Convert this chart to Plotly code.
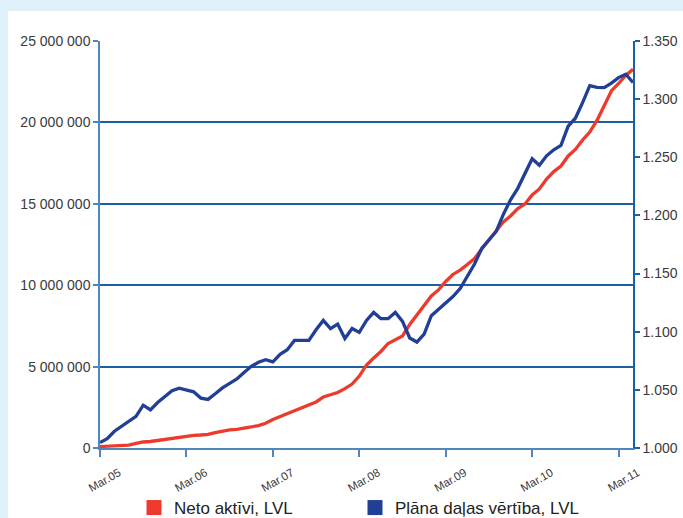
import plotly.graph_objects as go

# Monthly observations, Mar 2005 .. May 2011
month_index = list(range(75))

neto_aktivi_mln = [0.09, 0.12, 0.15, 0.17, 0.18, 0.28, 0.37, 0.40, 0.46, 0.55, 0.58, 0.64,
                   0.71, 0.77, 0.80, 0.84, 0.95, 1.04, 1.11, 1.14, 1.20, 1.29, 1.38, 1.52,
                   1.75, 1.93, 2.12, 2.33, 2.49, 2.68, 2.83, 3.13, 3.26, 3.41, 3.65, 3.93,
                   4.42, 5.10, 5.53, 5.93, 6.42, 6.66, 6.88, 7.59, 8.17, 8.78, 9.34, 9.71,
                   10.23, 10.66, 10.93, 11.27, 11.64, 12.22, 12.75, 13.33, 13.88, 14.25, 14.71, 14.99,
                   15.54, 15.91, 16.52, 16.98, 17.32, 17.94, 18.34, 18.92, 19.41, 20.12, 21.01, 21.93,
                   22.39, 22.88, 23.26]

dalas_vertiba = [1.0047, 1.0080, 1.0144, 1.0184, 1.0229, 1.0272, 1.0368, 1.0328, 1.0391, 1.0441, 1.0493, 1.0515,
                 1.0500, 1.0483, 1.0429, 1.0418, 1.0466, 1.0517, 1.0556, 1.0593, 1.0649, 1.0702, 1.0737, 1.0759,
                 1.0741, 1.0806, 1.0845, 1.0925, 1.0925, 1.0925, 1.1017, 1.1097, 1.1026, 1.1066, 1.0942, 1.1028,
                 1.0994, 1.1097, 1.1166, 1.1112, 1.1112, 1.1166, 1.1089, 1.0946, 1.0911, 1.0980, 1.1138, 1.1190,
                 1.1241, 1.1302, 1.1371, 1.1483, 1.1582, 1.1716, 1.1789, 1.1862, 1.2009, 1.2134, 1.2233, 1.2362,
                 1.2487, 1.2431, 1.2513, 1.2565, 1.2603, 1.2767, 1.2836, 1.2970, 1.3116, 1.3101, 1.3099, 1.3138,
                 1.3185, 1.3214, 1.3144]

x_tick_vals = [0, 12, 24, 36, 48, 60, 72]
x_tick_text = ["Mar.05", "Mar.06", "Mar.07", "Mar.08", "Mar.09", "Mar.10", "Mar.11"]
y_tick_vals = [0, 5e6, 10e6, 15e6, 20e6, 25e6]
y_tick_text = ["0", "5 000 000", "10 000 000", "15 000 000", "20 000 000", "25 000 000"]
y2_tick_vals = [1.00, 1.05, 1.10, 1.15, 1.20, 1.25, 1.30, 1.35]
series_names = ["Neto aktīvi, LVL", "Plāna daļas vērtība, LVL"]

RED = "#ee3a2c"
BLUE = "#223f96"
GRID = "#1d5fa3"
AXIS = "#4f86bf"
TXT = "#3a3a3a"
FONT = "Liberation Sans, Arial, sans-serif"

fig = go.Figure()
fig.add_trace(go.Scatter(x=month_index, y=[v * 1e6 for v in neto_aktivi_mln], mode="lines",
                         line=dict(color=RED, width=3.3), showlegend=False, yaxis="y"))
fig.add_trace(go.Scatter(x=month_index, y=dalas_vertiba, mode="lines",
                         line=dict(color=BLUE, width=3.3), showlegend=False, yaxis="y2"))
# legend entries (square swatches)
fig.add_trace(go.Scatter(x=[None], y=[None], mode="markers", name=series_names[0],
                         marker=dict(symbol="square", size=15, color=RED), legend="legend"))
fig.add_trace(go.Scatter(x=[None], y=[None], mode="markers", name=series_names[1],
                         marker=dict(symbol="square", size=15, color=BLUE), legend="legend2"))

L, R, T, B = 100, 50, 41, 70
W, H = 683, 518
pw, ph = W - L - R, H - T - B

def px_x(p):
    return (p - L) / pw

def px_y(p):
    return (H - B - p) / ph

leg_common = dict(orientation="h", xanchor="left", yanchor="middle",
                  font=dict(size=17, color="#222222"), itemwidth=30,
                  bgcolor="rgba(0,0,0,0)", borderwidth=0)

fig.update_layout(
    width=W, height=H,
    margin=dict(l=L, r=R, t=T, b=B, autoexpand=False),
    paper_bgcolor="#dff1fa",
    plot_bgcolor="white",
    font=dict(family=FONT, color=TXT),
    shapes=[dict(type="rect", xref="paper", yref="paper", layer="below",
                 x0=px_x(8), x1=px_x(W + 5), y0=px_y(H + 5), y1=px_y(11),
                 fillcolor="white", line=dict(width=0))],
    xaxis=dict(range=[0, 74], tickvals=x_tick_vals, ticktext=x_tick_text,
               showgrid=False, zeroline=False, showline=True, linecolor=AXIS, linewidth=1.5,
               ticks="outside", ticklen=7, tickcolor=AXIS, tickwidth=1.5,
               tickangle=-30, ticklabelshift=19, ticklabelstandoff=5,
               tickfont=dict(size=11.5, color=TXT)),
    yaxis=dict(range=[0, 25e6], tickvals=y_tick_vals, ticktext=y_tick_text,
               showgrid=True, gridcolor=GRID, gridwidth=1.5, zeroline=False,
               showline=True, linecolor=AXIS, linewidth=1.5,
               ticks="outside", ticklen=5, tickcolor=AXIS, tickwidth=1.5,
               tickfont=dict(size=14, color=TXT)),
    yaxis2=dict(range=[1.0, 1.35], tickvals=y2_tick_vals, tickformat=".3f",
                overlaying="y", side="right", showgrid=False, zeroline=False,
                showline=True, linecolor=GRID, linewidth=1.5,
                ticks="outside", ticklen=5, tickcolor=GRID, tickwidth=1.5,
                tickfont=dict(size=14, color=TXT)),
    legend=dict(x=px_x(134), y=px_y(508), **leg_common),
    legend2=dict(x=px_x(355), y=px_y(508), **leg_common),
)

fig.write_html("out.html")
